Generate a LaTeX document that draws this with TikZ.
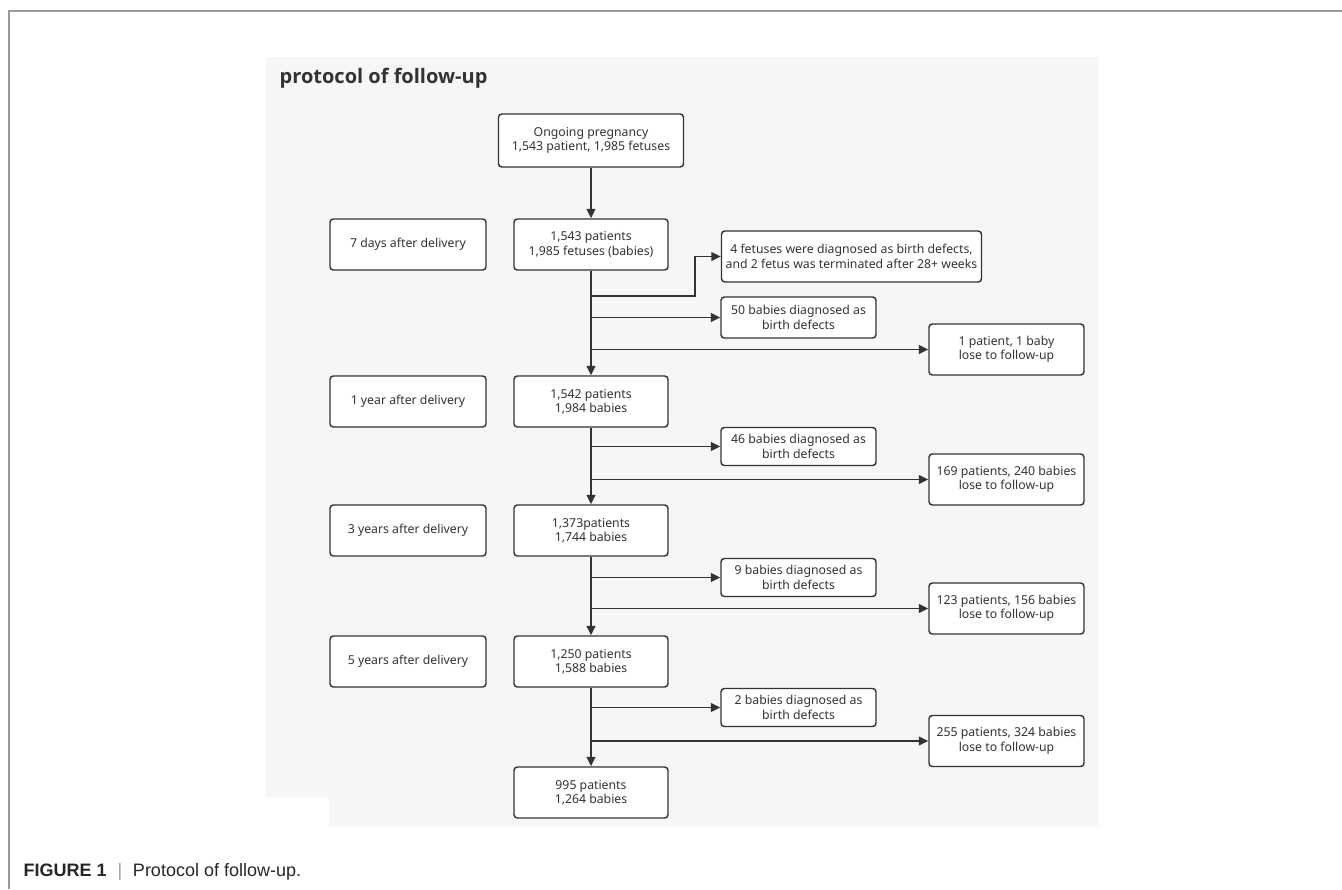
\documentclass[tikz,border=0pt]{standalone}
\usepackage{fontspec}
\setmainfont{Noto Sans}
\newfontfamily\titlefont{Open Sans}
\newfontfamily\capfont{Liberation Sans}
\usetikzlibrary{arrows.meta}
\definecolor{linegray}{HTML}{333333}
\definecolor{bggray}{HTML}{F6F6F6}
\definecolor{framegray}{HTML}{9A9A9A}

\begin{document}
\begin{tikzpicture}[x=0.75pt,y=-0.75pt,align=center,
  box/.style={draw=linegray,fill=white,line width=1.1pt,rounded corners=2.5pt,
    text=linegray,font=\fontsize{9.2}{10.8}\selectfont,inner sep=2pt},
  stage/.style={box,minimum width=117pt,minimum height=38.25pt},
  count/.style={box,minimum width=115.5pt,minimum height=38.25pt},
  defect/.style={box,minimum width=116.25pt,minimum height=28.5pt},
  lost/.style={box,minimum width=116.25pt,minimum height=38.25pt},
  link/.style={draw=linegray,line width=1.2pt},
  arr/.style={link,-{Triangle[length=7pt,width=6.5pt]}}]
\useasboundingbox (0,0) rectangle (1342,889);
% page frame and background
\draw[framegray,line width=1.1pt] (9,889) -- (9,11) -- (1342,11);
\fill[bggray] (266,57) -- (1098,57) -- (1098,826) -- (329,826) -- (329,797) -- (266,797) -- cycle;
\node[anchor=west,font=\titlefont\bfseries\fontsize{15}{17}\selectfont,text=linegray] (title) at (275,78) {protocol of follow-up};
% stages
\node[stage] (s1) at (408,244.5) {7 days after delivery};
\node[stage] (s2) at (408,401.5) {1 year after delivery};
\node[stage] (s3) at (408,530.5) {3 years after delivery};
\node[stage] (s4) at (408,661.5) {5 years after delivery};
% main column
\node[box,minimum width=138.75pt,minimum height=39.75pt] (v1) at (591,140.5) {Ongoing pregnancy\\1,543 patient, 1,985 fetuses};
\node[count] (v2) at (591,244.5) {1,543 patients\\1,985 fetuses (babies)};
\node[count] (v3) at (591,401.5) {1,542 patients\\1,984 babies};
\node[count] (v4) at (591,530.5) {1,373patients\\ 1,744 babies};
\node[count] (v5) at (591,661.5) {1,250 patients\\ 1,588 babies};
\node[count] (v6) at (591,792.5) {995 patients\\1,264 babies};
% birth defects
\node[box,minimum width=195pt,minimum height=38.25pt] (d1) at (851.5,256.5) {4 fetuses were diagnosed as birth defects,\\ and 2 fetus was terminated after 28+ weeks};
\node[defect,minimum height=30.75pt] (d2) at (798.5,317.5) {50 babies diagnosed as\\birth defects};
\node[defect] (d3) at (798.5,446.5) {46 babies diagnosed as\\birth defects};
\node[defect] (d4) at (798.5,577.5) {9 babies diagnosed as\\birth defects};
\node[defect] (d5) at (798.5,707.5) {2 babies diagnosed as\\birth defects};
% lost to follow-up
\node[lost] (l1) at (1006.5,349.5) {1 patient, 1 baby\\lose to follow-up};
\node[lost] (l2) at (1006.5,479.5) {169 patients, 240 babies\\lose to follow-up};
\node[lost] (l3) at (1006.5,608.5) {123 patients, 156 babies\\lose to follow-up};
\node[lost] (l4) at (1006.5,741) {255 patients, 324 babies\\lose to follow-up};
% connectors
\draw[arr] (v1) -- (v2);
\draw[arr] (v2) -- (v3);
\draw[arr] (v3) -- (v4);
\draw[arr] (v4) -- (v5);
\draw[arr] (v5) -- (v6);
\coordinate (k1) at (695,296);
\draw[arr] (v2 |- k1) -- (k1) |- (d1);
\draw[arr] (v2 |- d2) -- (d2);
\draw[arr] (v2 |- l1) -- (l1);
\draw[arr] (v3 |- d3) -- (d3);
\draw[arr] (v3 |- l2) -- (l2);
\draw[arr] (v4 |- d4) -- (d4);
\draw[arr] (v4 |- l3) -- (l3);
\draw[arr] (v5 |- d5) -- (d5);
\draw[arr] (v5 |- l4) -- (l4);
% caption
\node[anchor=west,font=\capfont\fontsize{13.5}{15}\selectfont,text=black!85] (cap) at (19,872)
  {\textbf{FIGURE 1}\hspace{0.6em}{\color{framegray}|}\hspace{0.6em}Protocol of follow-up.};
\end{tikzpicture}
\end{document}
